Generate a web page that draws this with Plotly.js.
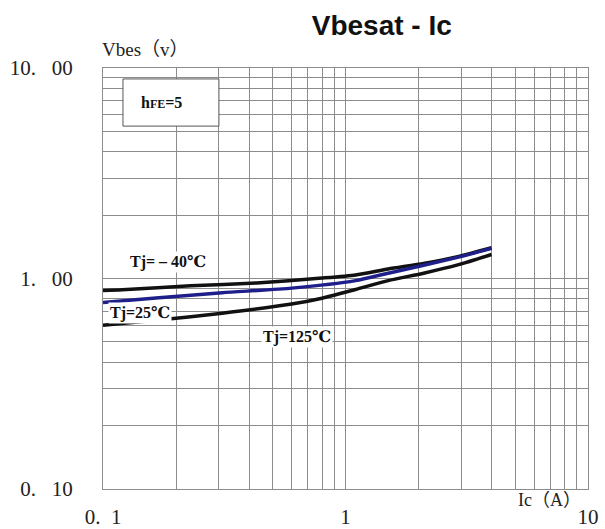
<!DOCTYPE html>
<html>
<head>
<meta charset="utf-8">
<script src="https://cdn.plot.ly/plotly-3.0.1.min.js"></script>
<style>html,body{margin:0;padding:0;background:#fff;}#chart{width:605px;height:529px;}</style>
</head>
<body>
<div id="chart"></div>
<script>
// Data
const icM40 = [0.1, 0.12, 0.23, 0.43, 0.8, 1.1, 1.5, 2.1, 2.9, 4.0];
const vbM40 = [0.878, 0.884, 0.923, 0.953, 1.005, 1.04, 1.11, 1.18, 1.27, 1.40];

const ic25 = [0.1, 0.17, 0.31, 0.6, 1.1, 1.5, 2.1, 2.9, 4.0];
const vb25 = [0.77, 0.81, 0.856, 0.90, 0.977, 1.06, 1.155, 1.26, 1.39];

const ic125 = [0.1, 0.17, 0.31, 0.6, 0.8, 1.1, 1.5, 2.1, 2.9, 4.0];
const vb125 = [0.60, 0.635, 0.684, 0.756, 0.806, 0.887, 0.977, 1.06, 1.16, 1.30];

const gridVals = [0.1,0.2,0.3,0.4,0.5,0.6,0.7,0.8,0.9,1,2,3,4,5,6,7,8,9,10];
const xTickText = ["0.\u20021","","","","","","","","","1","","","","","","","","","10"];
const yTickText = ["0.\u2002 10","","","","","","","","","1.\u2002 00","","","","","","","","","10.\u2002 00"];

const serif = "Liberation Serif, DejaVu Serif, Noto Sans CJK SC, serif";

const traces = [
  {x: icM40, y: vbM40, name: "Tj=-40℃", mode: "lines", line: {color: "#111111", width: 3.5, shape: "spline", smoothing: 0.6}},
  {x: ic25, y: vb25, name: "Tj=25℃", mode: "lines", line: {color: "#1f1f8c", width: 3.5, shape: "spline", smoothing: 0.6}},
  {x: ic125, y: vb125, name: "Tj=125℃", mode: "lines", line: {color: "#111111", width: 3.5, shape: "spline", smoothing: 0.6}}
];

const layout = {
  width: 605, height: 529,
  margin: {l: 103, r: 17, t: 68, b: 40},
  paper_bgcolor: "#fff", plot_bgcolor: "#fff",
  showlegend: false,
  title: {text: "<b>Vbesat - Ic</b>", font: {family: "Liberation Sans, Arial, sans-serif", size: 28, color: "#111"},
          x: 0.631, xanchor: "center", xref: "container", y: 0.953, yanchor: "middle", yref: "container"},
  xaxis: {type: "log", range: [-1, 1], tickvals: gridVals, ticktext: xTickText, ticks: "",
          showgrid: true, gridcolor: "#8c8c8c", gridwidth: 1, zeroline: false,
          showline: true, linecolor: "#8c8c8c", linewidth: 1, mirror: true,
          tickfont: {family: serif, size: 21, color: "#222"}, ticklabelstandoff: 9, fixedrange: true},
  yaxis: {type: "log", range: [-1, 1], tickvals: gridVals, ticktext: yTickText, ticks: "",
          showgrid: true, gridcolor: "#8c8c8c", gridwidth: 1, zeroline: false,
          showline: true, linecolor: "#8c8c8c", linewidth: 1, mirror: true,
          tickfont: {family: serif, size: 21, color: "#222"}, ticklabelstandoff: 25, fixedrange: true},
  shapes: [
    {type: "rect", xref: "paper", yref: "paper", x0: 0.0412, x1: 0.239, y0: 0.862, y1: 0.974,
     line: {color: "#555", width: 1}, fillcolor: "#fff", layer: "above"}
  ],
  annotations: [
    {xref: "paper", yref: "paper", x: 0.1216, y: 0.917, xanchor: "center", yanchor: "middle", showarrow: false,
     text: "<b>h<span style='font-size:12px'>FE</span>=5</b>", font: {family: serif, size: 16, color: "#111"}},
    {xref: "paper", yref: "paper", x: 0.087, y: 1.043, xanchor: "center", yanchor: "middle", showarrow: false,
     text: "Vbes（v）", font: {family: serif, size: 19, color: "#222"}},
    {xref: "paper", yref: "paper", x: 0.92, y: -0.026, xanchor: "center", yanchor: "middle", showarrow: false,
     text: "Ic（A）", font: {family: serif, size: 18, color: "#222"}},
    {xref: "x", yref: "y", x: -0.732, y: 0.0784, xanchor: "center", yanchor: "middle", showarrow: false, bgcolor: "#fff",
     text: "<b>Tj= – 40℃</b>", font: {family: serif, size: 16, color: "#111"}},
    {xref: "x", yref: "y", x: -0.847, y: -0.164, xanchor: "center", yanchor: "middle", showarrow: false, bgcolor: "#fff",
     text: "<b>Tj=25℃</b>", font: {family: serif, size: 16, color: "#111"}},
    {xref: "x", yref: "y", x: -0.2, y: -0.278, xanchor: "center", yanchor: "middle", showarrow: false, bgcolor: "#fff",
     text: "<b>Tj=125℃</b>", font: {family: serif, size: 16, color: "#111"}}
  ]
};

Plotly.newPlot("chart", traces, layout, {displayModeBar: false, staticPlot: true});
</script>
</body>
</html>
